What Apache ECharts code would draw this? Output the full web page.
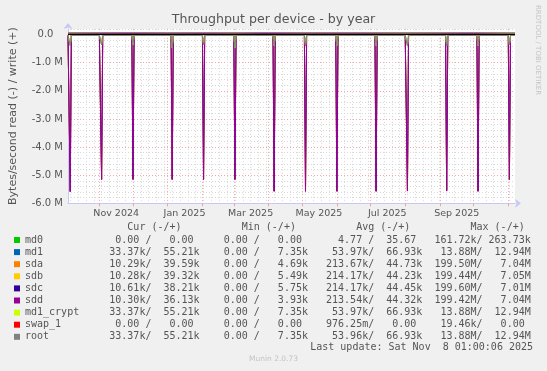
<!DOCTYPE html>
<html><head><meta charset="utf-8">
<script src="https://cdn.jsdelivr.net/npm/echarts@6/dist/echarts.min.js"></script>
<style>html,body{margin:0;padding:0;background:#f0f0f0}#c{width:547px;height:371px}</style>
</head><body><div id="c"></div>
<script>
// ---------- data ----------
const START = '2024-10-04', END = '2025-11-07';
const seriesNames = ['md0','md1','sda','sdb','sdc','sdd','md1_crypt','swap_1','root'];
const seriesColors = ['#00CC00','#0066B3','#FF8000','#FFCC00','#330099','#990099','#CCFF00','#FF0000','#808080'];

// x tick labels (placed mid-month)
const xTickLabels = ['Nov 2024','Jan 2025','Mar 2025','May 2025','Jul 2025','Sep 2025'];
const xTickDates  = ['2024-11-16','2025-01-16','2025-03-16','2025-05-16','2025-07-16','2025-09-16'];

// baseline daily averages (kB/s) at these dates
const baseDates = ['2024-10-04','2024-11-01','2024-12-01','2025-01-01','2025-02-01','2025-03-01','2025-04-01','2025-05-01','2025-06-01','2025-07-01','2025-08-01','2025-09-01','2025-10-01','2025-11-07'];
const md0Write   = [0.03,0.04,0.03,0.04,0.03,0.04,0.03,0.04,0.03,0.04,0.03,0.04,0.03,0.03];
const md0Read    = [0.01,0.01,0.00,0.01,0.00,0.01,0.00,0.01,0.00,0.01,0.00,0.01,0.00,0.00];
const md1Write   = [64,68,70,66,69,65,71,66,68,67,63,66,69,58];
const md1Read    = [31,29,28,33,30,29,32,28,27,31,29,32,34,33];
const sdaWrite   = [43,45,47,43,46,44,47,43,45,44,42,45,46,40];
const sdaRead    = [26,24,25,27,25,24,26,25,24,26,25,27,28,10];
const sdbWrite   = [42,44,46,43,45,44,46,42,44,43,42,44,45,39];
const sdbRead    = [26,25,25,27,26,24,26,25,24,26,25,27,28,10];
const sdcWrite   = [43,44,46,44,45,43,46,43,45,44,42,44,46,38];
const sdcRead    = [27,25,26,27,26,25,27,25,25,26,26,27,28,11];
const sddWrite   = [42,44,45,43,45,43,46,42,44,43,41,44,45,36];
const sddRead    = [26,24,25,26,25,24,26,24,24,25,25,26,27,10];
const cryptWrite = [64,68,70,66,69,65,71,66,68,67,63,66,69,58];
const cryptRead  = [31,29,28,33,30,29,32,28,27,31,29,32,34,33];
const swapWrite  = [0,0,0,0,0,0,0,0,0,0,0,0,0,0];
const swapRead   = [0.00,0.00,0.00,0.00,0.00,0.00,0.00,0.00,0.00,0.00,0.00,0.00,0.00,0.00];
const rootWrite  = [64,68,70,66,69,65,71,66,68,67,63,66,69,58];
const rootRead   = [31,29,28,33,30,29,32,28,27,31,29,32,34,33];

// monthly array-check read spikes (MB/s, daily average)
const spikeDates  = ['2024-10-06','2024-11-03','2024-12-01','2025-01-05','2025-02-02','2025-03-02','2025-04-06','2025-05-04','2025-06-01','2025-07-06','2025-08-03','2025-09-07','2025-10-05','2025-11-02'];
const diskSpikeM  = [5.58,5.15,5.15,5.15,5.15,5.15,5.57,5.57,5.57,5.57,5.55,5.55,5.57,5.15];
const mdDipM      = [0.40,0.37,0.37,0.48,0.37,0.48,0.40,0.40,0.40,0.40,0.40,0.40,0.40,0.37];

// legend table values
const curRead  = ['0.00','33.37k','10.29k','10.28k','10.61k','10.30k','33.37k','0.00','33.37k'];
const curWrite = ['0.00','55.21k','39.59k','39.32k','38.21k','36.13k','55.21k','0.00','55.21k'];
const minRead  = ['0.00','0.00','0.00','0.00','0.00','0.00','0.00','0.00','0.00'];
const minWrite = ['0.00','7.35k','4.69k','5.49k','5.75k','3.93k','7.35k','0.00','7.35k'];
const avgRead  = ['4.77','53.97k','213.67k','214.17k','214.17k','213.54k','53.97k','976.25m','53.96k'];
const avgWrite = ['35.67','66.93k','44.73k','44.23k','44.45k','44.32k','66.93k','0.00','66.93k'];
const maxRead  = ['161.72k','13.88M','199.50M','199.44M','199.60M','199.42M','13.88M','19.46k','13.88M'];
const maxWrite = ['263.73k','12.94M','7.04M','7.05M','7.01M','7.04M','12.94M','0.00','12.94M'];

// ---------- build ----------
const DAY = 86400000;
const t0 = Date.parse(START + 'T00:00:00Z'), t1 = Date.parse(END + 'T00:00:00Z');
const categories = [];
for (let t = t0; t <= t1; t += DAY) categories.push(new Date(t).toISOString().slice(0, 10));
const idx = d => Math.round((Date.parse(d + 'T00:00:00Z') - t0) / DAY);

function buildData(base, spikes, sign) {
  const pts = new Map();
  const baseIdx = baseDates.map(idx);
  const baseAt = k => { let v = base[0]; baseIdx.forEach((b, i) => { if (b <= k) v = base[i]; }); return v; };
  baseIdx.forEach((k, i) => pts.set(k, sign * base[i] * 1e3));
  if (spikes) spikeDates.forEach((d, i) => {
    const k = idx(d);
    pts.set(k - 1, sign * baseAt(k - 1) * 1e3);
    pts.set(k + 1, sign * baseAt(k + 1) * 1e3);
    pts.set(k, -spikes[i] * 1e6);
  });
  return [...pts.entries()].filter(e => e[0] >= 0 && e[0] < categories.length)
    .sort((a, b) => a[0] - b[0]).map(e => [e[0], e[1]]);
}

const devData = [
  [md0Write, md0Read, null],
  [md1Write, md1Read, mdDipM],
  [sdaWrite, sdaRead, diskSpikeM],
  [sdbWrite, sdbRead, diskSpikeM],
  [sdcWrite, sdcRead, diskSpikeM],
  [sddWrite, sddRead, diskSpikeM],
  [cryptWrite, cryptRead, mdDipM],
  [swapWrite, swapRead, null],
  [rootWrite, rootRead, mdDipM]
];

const series = [];
seriesNames.forEach((n, i) => {
  const [w, r, sp] = devData[i];
  const common = { name: n, type: 'line', xAxisIndex: 1, color: seriesColors[i], symbol: 'none',
    lineStyle: { width: 1 }, silent: true, animation: false };
  series.push(Object.assign({}, common, { data: buildData(w, null, 1) }));
  series.push(Object.assign({}, common, { data: buildData(r, sp, -1) }));
});
series[series.length - 1].markLine = {
  silent: true, symbol: 'none', animation: false, label: { show: false },
  lineStyle: { color: '#000', width: 1, type: 'solid' }, data: [{ yAxis: 0 }]
};

function field(s) {
  const u = /[a-zA-Z]$/.test(s) ? s.slice(-1) : ' ';
  const num = u === ' ' ? s : s.slice(0, -1);
  return num.padStart(6) + u;
}
function rowText(name) {
  const i = seriesNames.indexOf(name);
  return name.padEnd(13) + field(curRead[i]) + '/ ' + field(curWrite[i]) + '  ' +
    field(minRead[i]) + '/ ' + field(minWrite[i]) + '   ' +
    field(avgRead[i]) + '/ ' + field(avgWrite[i]) + '  ' +
    field(maxRead[i]) + '/ ' + field(maxWrite[i]);
}
const header = ' '.repeat(17) + 'Cur (-/+)' + ' '.repeat(10) + 'Min (-/+)' + ' '.repeat(10) + 'Avg (-/+)' + ' '.repeat(10) + 'Max (-/+)';

const axisCol = '#c8c8f4';
const isMonthStart = (i, v) => v.slice(8) === '01';
const isSunday = (i, v) => new Date(v + 'T00:00:00Z').getUTCDay() === 0;

const option = {
  backgroundColor: '#f0f0f0',
  animation: false,
  title: {
    text: 'Throughput per device - by year', left: 'center', top: 12, padding: 0,
    textStyle: { fontFamily: 'DejaVu Sans', fontSize: 12.6, fontWeight: 'normal', color: '#555', lineHeight: 15 }
  },
  grid: { left: 66, right: 32, top: 28.9, bottom: 167.7, show: true, backgroundColor: '#ffffff', borderWidth: 0 },
  xAxis: [
    { type: 'category', data: categories, boundaryGap: false, position: 'bottom',
      axisLine: { show: false, onZero: false }, axisTick: { show: false }, axisLabel: { show: false },
      splitLine: { show: true, interval: isSunday, lineStyle: { color: '#d8d8d8', type: [1, 2], width: 1 } } },
    { type: 'category', data: categories, boundaryGap: false, position: 'bottom',
      axisLine: { show: true, onZero: false, lineStyle: { color: axisCol }, symbol: ['none', 'arrow'], symbolSize: [7, 6], symbolOffset: [0, 6] },
      axisTick: { show: true, interval: isMonthStart, length: 3, lineStyle: { color: '#f0a0a0' } },
      axisLabel: { show: true, interval: (i, v) => xTickDates.includes(v), margin: 5,
        formatter: v => xTickLabels[xTickDates.indexOf(v)] || '',
        fontFamily: 'DejaVu Sans', fontSize: 9.5, color: '#555' },
      splitLine: { show: true, interval: isMonthStart, lineStyle: { color: '#f0a8a8', type: [1, 2], width: 1 } } }
  ],
  yAxis: {
    type: 'value', min: -6e6, max: 0.2e6, interval: 0.2e6,
    axisLine: { show: true, lineStyle: { color: axisCol }, symbol: ['none', 'arrow'], symbolSize: [7, 6], symbolOffset: [0, 6] },
    axisTick: { show: false },
    axisLabel: { margin: 5, fontFamily: 'DejaVu Sans', fontSize: 10, color: '#555',
      formatter: v => { const m = Math.round(v / 1e5); if (m % 10 !== 0) return ''; if (m === 0) return '0.0   '; return (m / 10).toFixed(1) + ' M'; } },
    splitLine: { show: true, lineStyle: { color: ['#f0a8a8', '#d8d8d8', '#d8d8d8', '#d8d8d8', '#d8d8d8'], type: [1, 2], width: 1 } },
    name: 'Bytes/second read (-) / write (+)', nameLocation: 'middle', nameGap: 49,
    nameTextStyle: { fontFamily: 'DejaVu Sans', fontSize: 11, color: '#555' }
  },
  legend: {
    orient: 'vertical', left: 14, top: 234, padding: 0, itemGap: 0.1, itemWidth: 6, itemHeight: 6,
    icon: 'rect', selectedMode: false, data: seriesNames,
    textStyle: { fontFamily: 'DejaVu Sans Mono', fontSize: 10, color: '#555', lineHeight: 12 },
    formatter: name => rowText(name)
  },
  graphic: [
    { type: 'text', x: 25, y: 227, silent: true, style: { text: header, font: '10px "DejaVu Sans Mono"', fill: '#555', align: 'left', verticalAlign: 'middle' } },
    { type: 'text', x: 533, y: 347, silent: true, style: { text: 'Last update: Sat Nov  8 01:00:06 2025', font: '10px "DejaVu Sans Mono"', fill: '#555', align: 'right', verticalAlign: 'middle' } },
    { type: 'text', x: 273.5, y: 359.5, silent: true, style: { text: 'Munin 2.0.73', font: '7.5px "DejaVu Sans"', fill: '#c4c4c4', align: 'center', verticalAlign: 'middle' } },
    { type: 'text', x: 538, y: 5, rotation: -Math.PI / 2, silent: true, style: { text: 'RRDTOOL / TOBI OETIKER', font: '7px "DejaVu Sans"', fill: '#c4c4c4', align: 'left', verticalAlign: 'middle' } }
  ],
  series: series
};
echarts.init(document.getElementById('c'), null, { renderer: 'canvas' }).setOption(option);
</script>
</body></html>
